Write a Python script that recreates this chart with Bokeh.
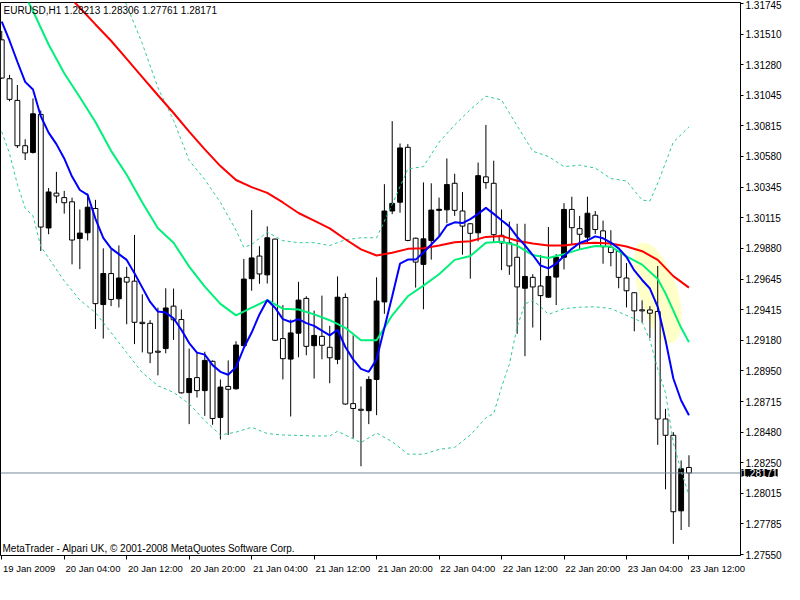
from bokeh.plotting import figure
from bokeh.models import (Range1d, LinearAxis, FixedTicker, PrintfTickFormatter,
                          CustomJSTickFormatter, Label, Span, ColumnDataSource)
from bokeh.embed import file_html
from bokeh.resources import INLINE

# ---------------- data ----------------
header_text = "EURUSD,H1  1.28213 1.28306 1.27761 1.28171"
footer_text = "MetaTrader - Alpari UK, \u00a9 2001-2008 MetaQuotes Software Corp."

tick_bars = [0, 8, 16, 24, 32, 40, 48, 56, 64, 72, 80, 88]
tick_labels = ["19 Jan 2009", "20 Jan 04:00", "20 Jan 12:00", "20 Jan 20:00",
               "21 Jan 04:00", "21 Jan 12:00", "21 Jan 20:00", "22 Jan 04:00",
               "22 Jan 12:00", "22 Jan 20:00", "23 Jan 04:00", "23 Jan 12:00"]
price_ticks = [1.31745, 1.31510, 1.31280, 1.31045, 1.30815, 1.30580, 1.30345,
               1.30115, 1.29880, 1.29645, 1.29415, 1.29180, 1.28950, 1.28715,
               1.28480, 1.28250, 1.28015, 1.27785, 1.27550]
last_price = 1.28171

opens = [1.31468, 1.31172, 1.31007, 1.30662, 1.30611, 1.30900, 1.30036, 1.30301, 1.30267, 1.30235,
         1.29956, 1.29999, 1.30184, 1.29453, 1.29689, 1.29497, 1.29660, 1.29631, 1.29318, 1.29310,
         1.29098, 1.29118, 1.29441, 1.29339, 1.28783, 1.28897, 1.28798, 1.29021, 1.28594, 1.28830,
         1.28812, 1.29140, 1.29650, 1.29822, 1.29679, 1.29951, 1.29194, 1.29038, 1.29235, 1.29500,
         1.29140, 1.29211, 1.29128, 1.29036, 1.29507, 1.28699, 1.28656, 1.28645, 1.28883, 1.29473,
         1.30165, 1.30232, 1.30650, 1.29958, 1.29759, 1.29941, 1.30170, 1.30174, 1.30376, 1.30165,
         1.30068, 1.29999, 1.30425, 1.30376, 1.29980, 1.29922, 1.29813, 1.29577, 1.29660, 1.29594,
         1.29509, 1.29662, 1.29813, 1.30177, 1.30031, 1.29966, 1.30133, 1.30014, 1.29890, 1.29857,
         1.29655, 1.29543, 1.29413, 1.29412, 1.29400, 1.28582, 1.28458, 1.27883, 1.28213]
highs = [1.31536, 1.31201, 1.31124, 1.30711, 1.31022, 1.30930, 1.30340, 1.30463, 1.30318, 1.30267,
         1.30177, 1.30298, 1.30250, 1.29881, 1.29873, 1.29903, 1.29740, 1.29983, 1.29531, 1.29334,
         1.29429, 1.29577, 1.29575, 1.29415, 1.29118, 1.29092, 1.29094, 1.29028, 1.28883, 1.29028,
         1.29174, 1.29800, 1.30172, 1.29897, 1.30048, 1.29955, 1.29449, 1.29339, 1.29626, 1.29516,
         1.29407, 1.29521, 1.29291, 1.29667, 1.29538, 1.29218, 1.28830, 1.28907, 1.29660, 1.30369,
         1.30849, 1.30679, 1.30674, 1.29962, 1.30383, 1.30376, 1.30267, 1.30565, 1.30449, 1.30310,
         1.30072, 1.30534, 1.30820, 1.30548, 1.30177, 1.30084, 1.30068, 1.30068, 1.29684, 1.29830,
         1.30043, 1.29837, 1.30225, 1.30274, 1.30128, 1.30274, 1.30165, 1.30092, 1.30019, 1.29861,
         1.29769, 1.29547, 1.29485, 1.29441, 1.29747, 1.28659, 1.28482, 1.28266, 1.28306]
lows = [1.31170, 1.31000, 1.30645, 1.30553, 1.30602, 1.29861, 1.29988, 1.30225, 1.30145, 1.29759,
        1.29723, 1.29941, 1.29267, 1.29194, 1.29441, 1.29431, 1.29303, 1.29152, 1.29089, 1.29007,
        1.28914, 1.29082, 1.29184, 1.28776, 1.28543, 1.28745, 1.28606, 1.28538, 1.28426, 1.28460,
        1.28805, 1.29135, 1.29558, 1.29611, 1.29613, 1.29176, 1.28883, 1.28601, 1.29052, 1.29067,
        1.28890, 1.29036, 1.28854, 1.28999, 1.28690, 1.28436, 1.28222, 1.28543, 1.28611, 1.29383,
        1.30141, 1.30152, 1.29935, 1.29582, 1.29417, 1.29795, 1.29970, 1.30072, 1.30128, 1.29832,
        1.29650, 1.29934, 1.30334, 1.29922, 1.29715, 1.29679, 1.29230, 1.29060, 1.29278, 1.29181,
        1.29505, 1.29449, 1.29720, 1.29910, 1.29873, 1.29917, 1.29990, 1.29764, 1.29744, 1.29577,
        1.29431, 1.29249, 1.29315, 1.29198, 1.28385, 1.28047, 1.27632, 1.27737, 1.27761]
closes = [1.31177, 1.31015, 1.30662, 1.30607, 1.30905, 1.30043, 1.30310, 1.30279, 1.30228, 1.29944,
          1.29997, 1.30194, 1.29460, 1.29689, 1.29492, 1.29655, 1.29624, 1.29318, 1.29308, 1.29084,
          1.29090, 1.29427, 1.29337, 1.28781, 1.28890, 1.28798, 1.29028, 1.28586, 1.28825, 1.28808,
          1.29145, 1.29647, 1.29808, 1.29686, 1.29961, 1.29181, 1.29041, 1.29237, 1.29487, 1.29135,
          1.29218, 1.29143, 1.29048, 1.29509, 1.28696, 1.28662, 1.28648, 1.28883, 1.29480, 1.30165,
          1.30223, 1.30645, 1.29941, 1.29776, 1.29953, 1.30172, 1.30178, 1.30366, 1.30170, 1.30050,
          1.29995, 1.30434, 1.30381, 1.29985, 1.29922, 1.29747, 1.29587, 1.29667, 1.29587, 1.29521,
          1.29667, 1.29813, 1.30177, 1.30038, 1.29988, 1.30148, 1.30024, 1.29893, 1.29849, 1.29660,
          1.29558, 1.29405, 1.29405, 1.29387, 1.28582, 1.28458, 1.27876, 1.28203, 1.28171]

# fast moving average (blue), one value per bar
ma_fast = [1.31607, 1.31461, 1.31301, 1.31148, 1.31090, 1.30886, 1.30762, 1.30674, 1.30565, 1.30427,
           1.30325, 1.30288, 1.30106, 1.29961, 1.29881, 1.29837, 1.29793, 1.29691, 1.29582, 1.29473,
           1.29400, 1.29392, 1.29349, 1.29261, 1.29160, 1.29087, 1.29072, 1.28992, 1.28941, 1.28919,
           1.28977, 1.29123, 1.29240, 1.29378, 1.29487, 1.29429, 1.29342, 1.29320, 1.29342, 1.29312,
           1.29291, 1.29254, 1.29218, 1.29261, 1.29130, 1.29036, 1.28963, 1.28941, 1.29036, 1.29276,
           1.29516, 1.29764, 1.29795, 1.29795, 1.29849, 1.29910, 1.29970, 1.30055, 1.30079, 1.30073,
           1.30103, 1.30143, 1.30189, 1.30143, 1.30095, 1.30048, 1.29968, 1.29903, 1.29830, 1.29750,
           1.29728, 1.29764, 1.29822, 1.29877, 1.29921, 1.29942, 1.29972, 1.29957, 1.29924, 1.29881,
           1.29815, 1.29713, 1.29640, 1.29575, 1.29436, 1.29181, 1.28890, 1.28723, 1.28611]

# medium moving average (green)
ma_mid_bars = [3, 4, 6, 8, 10, 12, 14, 16, 18, 20, 22, 24, 26, 28, 30, 32, 34, 36, 38, 40, 42, 44,
               46, 48, 50, 52, 54, 56, 58, 60, 62, 64, 66, 68, 70, 72, 74, 76, 78, 80, 82, 84,
               85, 86, 87, 88]
ma_mid = [1.31803, 1.31687, 1.31432, 1.31213, 1.31031, 1.30842, 1.30623, 1.30441, 1.30230, 1.30033,
          1.29924, 1.29742, 1.29589, 1.29458, 1.29371, 1.29429, 1.29487, 1.29422, 1.29415, 1.29378,
          1.29334, 1.29276, 1.29181, 1.29181, 1.29371, 1.29516, 1.29597, 1.29684, 1.29793, 1.29822,
          1.29924, 1.29931, 1.29902, 1.29830, 1.29808, 1.29837, 1.29873, 1.29899, 1.29895, 1.29819,
          1.29757, 1.29647, 1.29538, 1.29407, 1.29276, 1.29167]

# slow moving average (red)
ma_slow_bars = [9, 10, 12, 14, 16, 18, 20, 22, 24, 26, 28, 30, 32, 34, 36, 38, 40, 42, 44, 46, 48,
                50, 52, 54, 56, 58, 60, 62, 64, 66, 68, 70, 72, 74, 76, 78, 80, 82, 84, 86, 88]
ma_slow = [1.31774, 1.31712, 1.31585, 1.31461, 1.31323, 1.31184, 1.31046, 1.30911, 1.30769, 1.30634,
           1.30507, 1.30401, 1.30347, 1.30303, 1.30230, 1.30150, 1.30092, 1.30033, 1.29950, 1.29873,
           1.29826, 1.29848, 1.29877, 1.29881, 1.29903, 1.29928, 1.29935, 1.29968, 1.29975, 1.29939,
           1.29917, 1.29903, 1.29903, 1.29917, 1.29924, 1.29917, 1.29895, 1.29859, 1.29793, 1.29669,
           1.29582]

# Bollinger bands (dashed)
bb_upper_bars = [15, 16, 18, 20, 22, 24, 26, 28, 30, 31, 32, 34, 36, 38, 40, 42, 44, 46, 48, 50,
                 52, 54, 56, 58, 60, 62, 64, 66, 68, 70, 72, 74, 76, 78, 80, 82, 83, 84, 86, 88]
bb_upper = [1.31876, 1.31730, 1.31439, 1.31104, 1.30856, 1.30550, 1.30405, 1.30230, 1.30019, 1.29888,
            1.29910, 1.30004, 1.29939, 1.29924, 1.29924, 1.29902, 1.29946, 1.29961, 1.29961, 1.30216,
            1.30485, 1.30503, 1.30689, 1.30820, 1.30937, 1.31039, 1.31010, 1.30813, 1.30620, 1.30580,
            1.30503, 1.30514, 1.30492, 1.30412, 1.30394, 1.30248, 1.30241, 1.30376, 1.30689, 1.30805]
bb_lower_bars = [0, 1, 2, 3, 4, 5, 6, 8, 10, 12, 14, 16, 18, 20, 22, 24, 26, 28, 30, 32, 34, 36,
                 38, 40, 42, 43, 44, 46, 48, 50, 52, 54, 56, 58, 60, 62, 63, 64, 65, 66, 67, 68,
                 69, 70, 72, 74, 76, 78, 80, 82, 83, 84, 85, 86, 87, 88]
bb_lower = [1.30769, 1.30602, 1.30368, 1.30186, 1.30128, 1.29895, 1.29808, 1.29633, 1.29487, 1.29392,
            1.29240, 1.29087, 1.28934, 1.28835, 1.28785, 1.28697, 1.28570, 1.28460, 1.28482, 1.28519,
            1.28471, 1.28460, 1.28457, 1.28453, 1.28453, 1.28489, 1.28460, 1.28402, 1.28475, 1.28409,
            1.28315, 1.28313, 1.28351, 1.28366, 1.28460, 1.28591, 1.28623, 1.28825, 1.28999, 1.29283,
            1.29458, 1.29484, 1.29436, 1.29378, 1.29422, 1.29433, 1.29436, 1.29422, 1.29371, 1.29320,
            1.29181, 1.28963, 1.28781, 1.28402, 1.28184, 1.28001]

# highlighted (drawn) region near 23 Jan
hl_bars = [81.59, 82.71, 83.59, 84.59, 85.59, 86.46, 86.96, 87.09, 86.84, 86.09,
           85.09, 84.09, 83.09, 82.09, 81.34, 80.96, 81.09]
hl_prices = [1.29924, 1.29917, 1.29888, 1.29815, 1.29706, 1.29582, 1.29451, 1.29327, 1.29232, 1.29160,
             1.29160, 1.29203, 1.29305, 1.29451, 1.29597, 1.29742, 1.29859]

# ---------------- figure ----------------
x_start, x_end = -0.16, 94.6
y_low, y_high = 1.27543, 1.31752
FONT = "Liberation Sans"
LABEL_PX = 9.5

p = figure(width=784, height=584, output_backend="svg", toolbar_location=None,
           x_range=Range1d(x_start, x_end), y_range=Range1d(y_low, y_high),
           x_axis_location=None, y_axis_location=None,
           min_border_left=0, min_border_top=2, min_border_right=0, min_border_bottom=0,
           background_fill_color="white", border_fill_color="white",
           outline_line_color="black", outline_line_width=1)
p.grid.visible = False

# time axis: MetaTrader puts each date label just to the right of its tick.
# Real tick marks are drawn as minor ticks; labels are centred half a label-width to the right.
approx_frame_px = 733.0
px_per_bar = approx_frame_px / (x_end - x_start)
def _text_em(s):
    w = {" ": 0.278, ":": 0.278, "J": 0.5}
    return sum(w.get(ch, 0.556) for ch in s)
label_centers = [b + (_text_em(t) * LABEL_PX / 2 + 1) / px_per_bar
                 for b, t in zip(tick_bars, tick_labels)]

xaxis = LinearAxis(ticker=FixedTicker(ticks=label_centers, minor_ticks=tick_bars),
                   formatter=CustomJSTickFormatter(args=dict(labels=tick_labels),
                                                   code="return labels[index]"),
                   major_tick_in=0, major_tick_out=0,
                   minor_tick_in=0, minor_tick_out=4, minor_tick_line_color="black",
                   axis_line_color="black",
                   major_label_text_font=FONT, major_label_text_font_size=f"{LABEL_PX}px",
                   major_label_text_color="black", major_label_standoff=3)
p.add_layout(xaxis, "below")

yaxis = LinearAxis(ticker=FixedTicker(ticks=price_ticks),
                   formatter=PrintfTickFormatter(format="%.5f"),
                   major_tick_in=0, major_tick_out=3, minor_tick_line_color=None,
                   axis_line_color="black", major_tick_line_color="black",
                   major_label_text_font=FONT, major_label_text_font_size="10px",
                   major_label_text_color="black", major_label_standoff=2)
p.add_layout(yaxis, "right")

# highlight patch
p.patch(hl_bars, hl_prices, fill_color="#ffffc8", line_color=None)

# candles
bars = list(range(len(opens)))
body_top = [max(o, c) for o, c in zip(opens, closes)]
body_bot = [min(o, c) for o, c in zip(opens, closes)]
fills = ["black" if c > o else "white" for o, c in zip(opens, closes)]
src = ColumnDataSource(dict(x=bars, high=highs, low=lows, top=body_top, bottom=body_bot, fill=fills))
p.segment(x0="x", y0="high", x1="x", y1="low", source=src, line_color="black", line_width=1)
p.vbar(x="x", top="top", bottom="bottom", width=0.62, source=src,
       fill_color="fill", line_color="black", line_width=1)

# indicators
band_color = "#2ec89c"
p.line(bb_upper_bars, bb_upper, line_color=band_color, line_width=1, line_dash="3 3")
p.line(bb_lower_bars, bb_lower, line_color=band_color, line_width=1, line_dash="3 3")
p.line(ma_slow_bars, ma_slow, line_color="#ff0000", line_width=2)
p.line(ma_mid_bars, ma_mid, line_color="#00f07a", line_width=2)
p.line(bars, ma_fast, line_color="#0000ff", line_width=2)

# bid line
p.add_layout(Span(location=last_price, dimension="width", line_color="#778899", line_width=1))

# texts
p.add_layout(Label(x=x_start, y=y_high, x_offset=3, y_offset=-2, text=header_text,
                   text_font=FONT, text_font_size="10px", text_color="black",
                   text_align="left", text_baseline="top"))
p.add_layout(Label(x=x_start, y=y_low, x_offset=2, y_offset=2, text=footer_text,
                   text_font=FONT, text_font_size="10px", text_color="black",
                   text_align="left", text_baseline="bottom"))
# last-price tag over the price scale (side panel so it is not clipped to the frame)
p.add_layout(Label(x=x_end, y=last_price, x_offset=1, text=f"{last_price:.5f}",
                   text_font=FONT, text_font_size="10px", text_color="white",
                   background_fill_color="black", text_align="left", text_baseline="middle"),
             "below")

open("out.html", "w").write(file_html(p, INLINE))
